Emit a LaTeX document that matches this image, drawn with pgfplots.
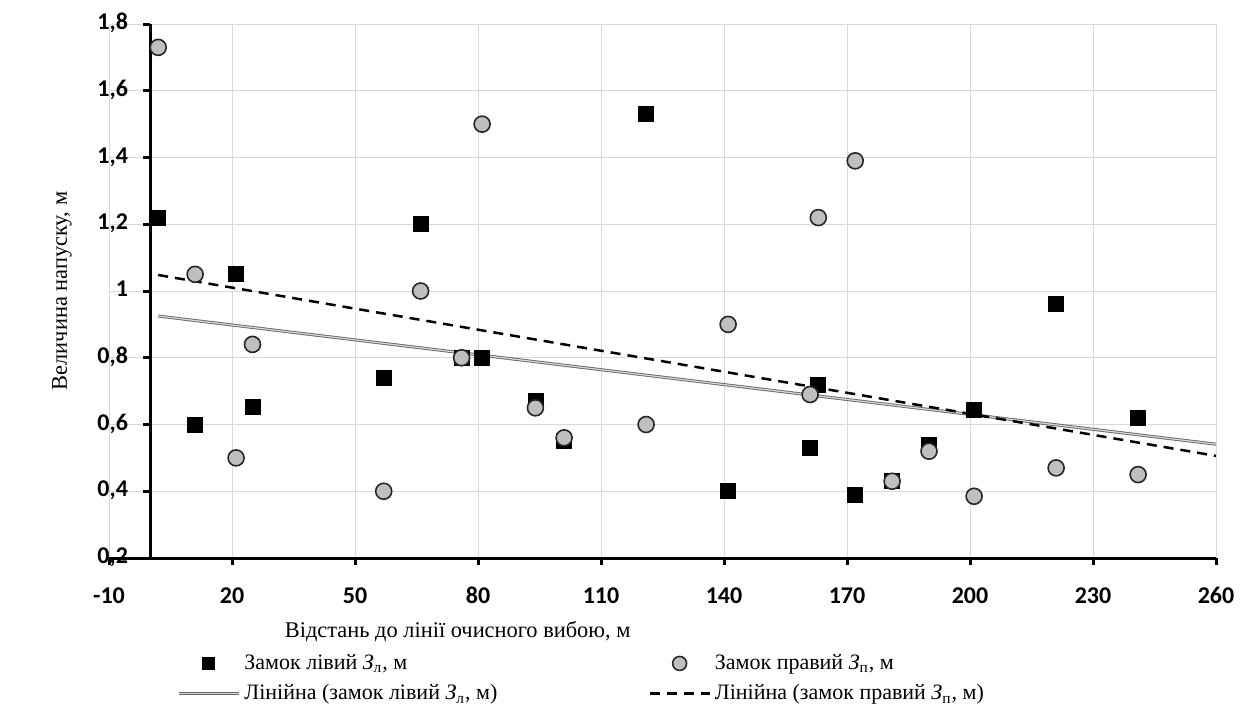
\documentclass[border=0pt]{standalone}
\usepackage{fontspec}
\setmainfont{Liberation Serif}
\newfontfamily\calibri{Carlito}
\usepackage{pgfplots}
\pgfplotsset{compat=1.18}
\usetikzlibrary{calc}
\definecolor{gridgray}{RGB}{217,217,217}
\definecolor{markgray}{RGB}{191,191,191}

\pgfplotsset{
  sqleg/.style={legend image code/.code={\draw[mark repeat=2,mark phase=2,##1,mark size=3pt] plot coordinates {(0pt,0pt)(15pt,0pt)(30pt,0pt)};}},
  cileg/.style={legend image code/.code={\draw[mark repeat=2,mark phase=2,##1,mark size=3.5pt] plot coordinates {(0pt,0pt)(15pt,0pt)(30pt,0pt)};}},
  lnleg/.style={legend image code/.code={\draw[##1] (0pt,0pt) -- (30pt,0pt);}},
}

\pgfplotstableread{
x y
2 1.22
11 0.60
21 1.05
25 0.653
57 0.74
66 1.20
76 0.80
81 0.80
94 0.67
101 0.55
121 1.53
141 0.40
161 0.53
163 0.72
172 0.39
181 0.43
190 0.54
201 0.645
221 0.96
241 0.62
}\leftdata

\pgfplotstableread{
x y
2 1.73
11 1.05
21 0.50
25 0.84
57 0.40
66 1.00
76 0.80
81 1.50
94 0.65
101 0.56
121 0.60
141 0.90
161 0.69
163 1.22
172 1.39
181 0.43
190 0.52
201 0.385
221 0.47
241 0.45
}\rightdata

\newcommand{\Zl}{\textit{З}\textsubscript{л}}
\newcommand{\Zp}{\textit{З}\textsubscript{п}}

\begin{document}
\begin{tikzpicture}
\begin{axis}[
  name=ax,
  scale only axis, width=553.5pt, height=267pt,
  xmin=-10, xmax=260, ymin=0.2, ymax=1.8,
  xtick={-10,20,50,80,110,140,170,200,230,260},
  ytick={0.2,0.4,0.6,0.8,1,1.2,1.4,1.6,1.8},
  axis x line=bottom, axis y line=center,
  hide obscured x ticks=false, hide obscured y ticks=false,
  axis line style={-, line width=1.5pt, black},
  x axis line style={-}, y axis line style={-},
  tick align=outside, major tick length=3.5pt,
  tick style={line width=1.5pt, black},
  grid=major, major grid style={gridgray, line width=0.5pt},
  typeset ticklabels with strut,
  ticklabel style={font=\calibri\bfseries\fontsize{12}{14}\selectfont},
  xticklabel style={yshift=-6pt},
  yticklabel style={xshift=-4pt},
  /pgf/number format/assume math mode=true,
  /pgf/number format/use comma,
  every axis x label/.style={at={(axis description cs:0.315,0)}, anchor=center, yshift=-37pt, font=\fontsize{11.2}{13}\selectfont},
  every axis y label/.style={at={(axis description cs:0,0.5)}, rotate=90, anchor=center, yshift=23.5pt, font=\fontsize{11.2}{13}\selectfont},
  xlabel={Відстань до лінії очисного вибою, м},
  ylabel={Величина напуску, м},
  legend columns=2,
  legend cell align=left,
  legend style={at={(axis description cs:0.0614,0)}, anchor=north west, yshift=-46pt,
    draw=none, fill=none, inner sep=0pt, row sep=2pt,
    font=\fontsize{11}{13}\selectfont,
    /tikz/every even column/.append style={column sep=0pt}},
  clip=false,
]
\addplot[only marks, mark=square*, mark size=3.75pt, black, sqleg]
  table[x=x,y=y]{\leftdata};
\addlegendentry{\makebox[200pt][l]{Замок лівий \Zl, м}}
\addplot[only marks, mark=*, mark size=4pt, mark options={fill=markgray, draw=black!85, line width=0.8pt}, cileg]
  table[x=x,y=y]{\rightdata};
\addlegendentry{Замок правий \Zp, м}
\addplot[draw=black!60, double=white!85!black, double distance=0.6pt, line width=0.45pt, no marks, lnleg]
  coordinates {(2,0.925) (260,0.541)};
\addlegendentry{\makebox[200pt][l]{Лінійна (замок лівий \Zl, м)}}
\addplot[black, line width=1.25pt, dash pattern=on 5pt off 3.5pt, no marks, lnleg]
  coordinates {(2,1.048) (260,0.506)};
\addlegendentry{Лінійна (замок правий \Zp, м)}
\end{axis}
\pgfresetboundingbox
\path ($(ax.south west)+(-54.5pt,-77.5pt)$) rectangle ($(ax.north east)+(13.5pt,12pt)$);
\end{tikzpicture}
\end{document}
